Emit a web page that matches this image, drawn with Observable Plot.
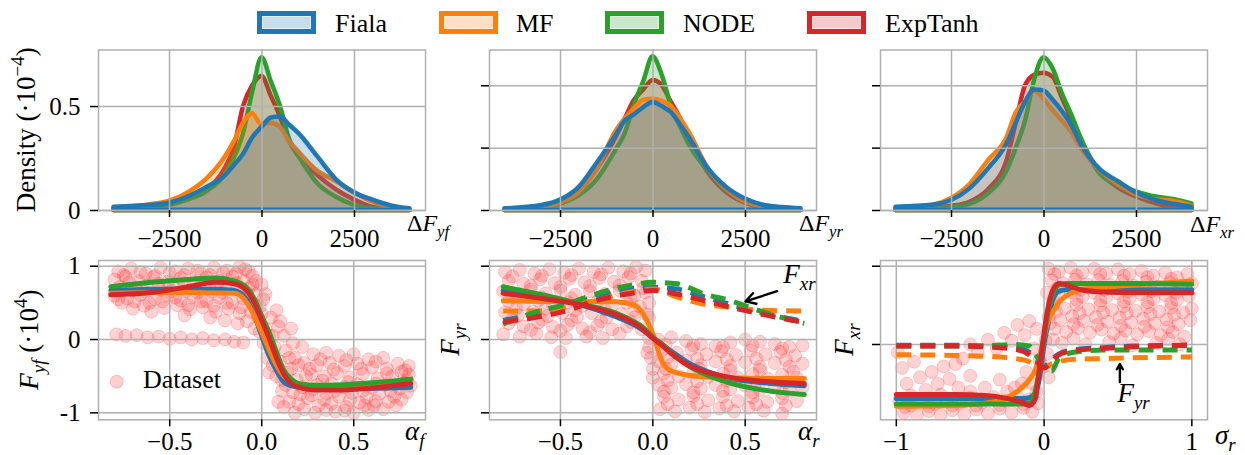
<!DOCTYPE html>
<html><head><meta charset="utf-8">
<script src="https://cdn.jsdelivr.net/npm/d3@7"></script>
<script src="https://cdn.jsdelivr.net/npm/@observablehq/plot@0.6"></script>
<style>
html,body{margin:0;padding:0;background:#fff;}
#root{position:relative;width:1245px;height:455px;overflow:hidden;background:#fff;}
#root svg{position:absolute;left:0;top:0;}
</style></head><body><div id="root"></div>
<script>
// ---------- data ----------
const models = ["Fiala", "MF", "NODE", "ExpTanh"];
const colors = ["#1f77b4", "#ff7f0e", "#2ca02c", "#d62728"];

// KDE grid (residual force, N)
const kdeGrid = [-4000,-3000,-2500,-2000,-1500,-1000,-750,-500,-250,0,250,500,750,1000,1500,2000,2500,3000,3500,4000];
// densities (·10^-4), order: Fiala, MF, NODE, ExpTanh
const densFyf = [
  [.016,.025,.035,.065,.11,.165,.215,.27,.35,.40,.445,.45,.41,.37,.26,.15,.085,.05,.022,.008],
  [.012,.028,.045,.085,.15,.255,.33,.42,.465,.41,.42,.40,.33,.28,.19,.14,.085,.04,.012,.004],
  [.004,.01,.025,.05,.09,.17,.25,.37,.57,.735,.62,.50,.34,.26,.13,.065,.025,.008,.003,0],
  [.004,.015,.03,.06,.10,.2,.3,.5,.6,.645,.55,.45,.33,.26,.17,.1,.05,.015,.005,0]
];
const densFyr = [
  [.008,.024,.05,.11,.23,.36,.43,.46,.495,.52,.5,.47,.41,.345,.2,.11,.055,.024,.014,.008],
  [.004,.012,.035,.085,.2,.38,.44,.49,.53,.535,.525,.5,.44,.37,.2,.1,.04,.018,.006,.003],
  [.002,.008,.03,.07,.15,.29,.37,.51,.62,.74,.65,.5,.4,.31,.19,.096,.048,.024,.01,.004],
  [.002,.01,.035,.09,.2,.35,.44,.53,.58,.625,.6,.52,.44,.34,.18,.085,.035,.012,.004,0]
];
const densFxr = [
  [.016,.025,.048,.104,.2,.32,.42,.52,.58,.575,.53,.475,.41,.32,.2,.14,.085,.05,.03,.016],
  [.008,.025,.058,.125,.24,.35,.47,.52,.575,.535,.48,.43,.375,.3,.195,.125,.075,.052,.045,.02],
  [.003,.008,.015,.03,.08,.19,.3,.43,.63,.735,.68,.56,.46,.35,.18,.12,.09,.066,.053,.032],
  [.003,.01,.02,.04,.1,.24,.42,.6,.65,.66,.64,.54,.44,.34,.19,.11,.065,.035,.012,0]
];

// Model curves, bottom row (force ·10^4)
const gridAf = [-0.82,-0.6,-0.4,-0.25,-0.15,-0.08,-0.04,0,0.04,0.08,0.12,0.16,0.2,0.25,0.3,0.4,0.6,0.81];
const curvesFyf = [
  [.67,.685,.69,.685,.67,.54,.33,.05,-.22,-.42,-.58,-.63,-.65,-.66,-.67,-.67,-.665,-.65],
  [.63,.64,.64,.635,.63,.5,.32,.1,-.14,-.35,-.5,-.58,-.61,-.62,-.63,-.64,-.62,-.6],
  [.72,.78,.82,.84,.80,.70,.55,.32,.1,-.17,-.42,-.54,-.6,-.62,-.625,-.62,-.59,-.54],
  [.61,.64,.72,.78,.76,.66,.5,.26,.02,-.25,-.47,-.6,-.65,-.68,-.69,-.69,-.66,-.6]
];
const gridAr = [-0.81,-0.6,-0.4,-0.2,-0.1,-0.05,0,0.05,0.1,0.2,0.3,0.4,0.6,0.82];
const curvesFyr = [
  [.67,.58,.48,.31,.2,.12,.02,-.07,-.16,-.33,-.44,-.52,-.59,-.63],
  [.53,.52,.52,.515,.47,.34,.08,-.3,-.43,-.49,-.51,-.52,-.53,-.53],
  [.72,.61,.49,.36,.24,.16,.03,-.06,-.18,-.37,-.49,-.58,-.69,-.75],
  [.63,.56,.48,.34,.22,.13,.02,-.08,-.19,-.36,-.45,-.51,-.57,-.6]
];
const gridArDash = [-0.81,-0.64,-0.47,-0.31,-0.14,0,0.13,0.28,0.42,0.58,0.82];
const curvesFxrDash = [
  [.26,.35,.47,.58,.69,.71,.69,.58,.48,.37,.25],
  [.39,.39,.44,.53,.64,.69,.58,.48,.44,.40,.39],
  [.21,.37,.48,.62,.73,.78,.76,.62,.53,.39,.22],
  [.24,.30,.39,.53,.62,.67,.62,.53,.44,.35,.23]
];
const gridSr = [-1,-0.6,-0.4,-0.25,-0.15,-0.1,-0.06,-0.03,0,0.03,0.06,0.1,0.15,0.25,0.4,0.6,1];
const curvesFxr = [
  [-.69,-.69,-.69,-.69,-.69,-.68,-.62,-.42,0,.3,.58,.68,.70,.70,.70,.70,.70],
  [-.79,-.78,-.75,-.68,-.55,-.45,-.33,-.15,.1,.32,.42,.54,.62,.70,.73,.76,.81],
  [-.76,-.76,-.76,-.76,-.76,-.75,-.6,-.3,.1,.45,.65,.76,.78,.78,.78,.78,.77],
  [-.64,-.64,-.65,-.69,-.74,-.78,-.7,-.3,.15,.5,.7,.78,.76,.7,.67,.66,.66]
];
const gridSrDash = [-1,-0.6,-0.4,-0.2,-0.1,-0.05,0,0.05,0.1,0.2,0.4,0.6,1];
const curvesFyrDash = [
  [-.01,-.01,-.02,-.04,-.1,-.2,-.28,-.2,-.12,-.07,-.04,-.02,-.01],
  [-.13,-.14,-.15,-.18,-.22,-.27,-.3,-.25,-.22,-.19,-.18,-.17,-.16],
  [-.02,-.02,-.02,0,-.02,-.15,-.3,-.34,-.18,-.1,-.07,-.07,-.07],
  [-.02,-.02,-.03,-.06,-.13,-.22,-.3,-.22,-.13,-.08,-.05,-.03,-.01]
];

// Dataset samples [slip, force ·10^4]
const ptsFyf = [
 [-0.78,0.93],[-0.71,0.97],[-0.63,0.9],[-0.55,0.98],[-0.47,0.93],[-0.4,0.97],[-0.33,0.91],[-0.26,0.98],[-0.19,0.94],[-0.12,0.99],[-0.07,0.93],
 [-0.8,0.82],[-0.74,0.86],[-0.67,0.8],[-0.59,0.85],[-0.51,0.79],[-0.44,0.84],[-0.37,0.78],[-0.3,0.85],[-0.23,0.8],[-0.16,0.86],[-0.1,0.8],[-0.05,0.87],
 [-0.77,0.72],[-0.7,0.67],[-0.62,0.74],[-0.55,0.68],[-0.48,0.72],[-0.41,0.66],[-0.34,0.71],[-0.27,0.65],[-0.2,0.72],[-0.13,0.68],[-0.07,0.7],[-0.03,0.62],
 [-0.8,0.6],[-0.73,0.56],[-0.66,0.61],[-0.58,0.55],[-0.51,0.6],[-0.44,0.53],[-0.37,0.58],[-0.3,0.52],[-0.23,0.57],[-0.16,0.5],[-0.1,0.56],[-0.04,0.48],
 [-0.76,0.5],[-0.7,0.42],[-0.64,0.46],[-0.6,0.38],[-0.53,0.43],[-0.46,0.47],[-0.42,0.33],[-0.39,0.41],[-0.32,0.44],[-0.28,0.3],[-0.25,0.38],[-0.2,0.26],[-0.18,0.42],[-0.13,0.22],[-0.12,0.36],[-0.08,0.25],[-0.06,0.38],[-0.04,0.15],[-0.02,0.3],
 [-0.75,0.88],[-0.66,0.92],[-0.58,0.87],[-0.5,0.91],[-0.42,0.88],[-0.35,0.94],[-0.28,0.88],[-0.21,0.91],[-0.14,0.9],[-0.09,0.96],[-0.03,0.8],
 [-0.79,0.67],[-0.72,0.78],[-0.64,0.66],[-0.56,0.76],[-0.49,0.66],[-0.42,0.76],[-0.35,0.64],[-0.28,0.77],[-0.21,0.64],[-0.14,0.77],[-0.08,0.63],[-0.05,0.75],
 [-0.78,0.55],[-0.69,0.52],[-0.61,0.5],[-0.54,0.52],[-0.47,0.57],[-0.4,0.47],[-0.33,0.52],[-0.26,0.46],[-0.19,0.5],[-0.11,0.44],
 [-0.79,0.07],[-0.74,0.05],[-0.68,0.06],[-0.62,0.03],[-0.56,0.04],[-0.5,0.01],[-0.44,0.03],[-0.38,0.0],[-0.32,0.02],[-0.26,-0.01],[-0.2,0.0],[-0.15,-0.03],[-0.1,-0.04],
 [0.0,0.75],[0.01,0.55],[0.0,0.35],[0.02,0.15],[0.01,-0.05],[0.03,-0.25],[0.04,-0.45],[-0.01,0.1],[0.05,0.3],[0.06,0.05],
 [-0.01,0.45],[0.02,0.62],[0.04,0.05],[0.06,-0.35],[0.1,0.25],[0.11,-0.55],[0.15,-0.25],[0.15,-0.85],[0.2,-0.35],[0.21,-0.75],
 [0.08,0.4],[0.09,0.18],[0.07,-0.1],[0.1,-0.3],[0.08,-0.5],[0.11,-0.7],[0.09,-0.85],[0.12,0.05],[0.13,-0.15],[0.14,-0.45],[0.13,-0.62],[0.12,-0.92],
 [0.16,0.15],[0.17,-0.05],[0.18,-0.25],[0.16,-0.4],[0.19,-0.55],[0.17,-0.72],[0.2,-0.88],[0.18,-1.0],[0.22,-0.1],[0.23,-0.32],[0.24,-0.5],[0.22,-0.65],[0.25,-0.8],[0.23,-0.95],
 [0.28,-0.2],[0.35,-0.18],[0.42,-0.22],[0.5,-0.2],[0.58,-0.27],[0.66,-0.25],[0.74,-0.33],[0.8,-0.36],
 [0.3,-0.35],[0.37,-0.32],[0.45,-0.36],[0.52,-0.33],[0.6,-0.38],[0.68,-0.4],[0.76,-0.44],
 [0.27,-0.48],[0.34,-0.5],[0.41,-0.46],[0.48,-0.52],[0.55,-0.47],[0.63,-0.53],[0.71,-0.5],[0.79,-0.55],
 [0.3,-0.62],[0.38,-0.6],[0.45,-0.65],[0.52,-0.61],[0.6,-0.66],[0.67,-0.62],[0.75,-0.67],[0.81,-0.63],
 [0.27,-0.76],[0.35,-0.74],[0.42,-0.78],[0.49,-0.73],[0.57,-0.79],[0.64,-0.74],[0.72,-0.78],[0.79,-0.72],
 [0.31,-0.9],[0.38,-0.87],[0.46,-0.92],[0.53,-0.86],[0.61,-0.9],[0.69,-0.85],[0.76,-0.82],
 [0.29,-1.0],[0.4,-0.98],[0.5,-1.0],[0.58,-0.96],[0.66,-0.95],
 [0.32,-0.27],[0.46,-0.28],[0.62,-0.3],[0.78,-0.42],[0.33,-0.56],[0.47,-0.58],[0.62,-0.6],[0.77,-0.6],[0.28,-0.68],[0.4,-0.7],[0.55,-0.7],[0.7,-0.7],
 [0.34,-0.82],[0.48,-0.82],[0.62,-0.84],[0.73,-0.9],[0.35,-0.96],[0.45,-0.97],[0.56,-0.9],[0.8,-0.48],[0.26,-0.4],[0.39,-0.41],[0.54,-0.4],[0.68,-0.46]
];
const ptsFyr = [
 [-0.8,0.92],[-0.72,0.95],[-0.64,0.9],[-0.56,0.96],[-0.48,0.91],[-0.4,0.97],[-0.32,0.92],[-0.24,0.98],[-0.16,0.93],[-0.09,0.99],[-0.04,0.94],
 [-0.78,0.8],[-0.7,0.76],[-0.61,0.82],[-0.53,0.77],[-0.45,0.83],[-0.37,0.78],[-0.29,0.84],[-0.21,0.79],[-0.13,0.85],[-0.06,0.8],[-0.02,0.72],
 [-0.81,0.66],[-0.74,0.62],[-0.66,0.68],[-0.58,0.63],[-0.5,0.67],[-0.42,0.61],[-0.34,0.66],[-0.26,0.62],[-0.18,0.67],[-0.1,0.6],[-0.04,0.64],
 [-0.78,0.52],[-0.7,0.48],[-0.62,0.53],[-0.54,0.47],[-0.46,0.51],[-0.38,0.46],[-0.3,0.52],[-0.22,0.47],[-0.14,0.5],[-0.07,0.45],[-0.02,0.5],
 [-0.8,0.37],[-0.73,0.33],[-0.65,0.38],[-0.57,0.32],[-0.49,0.36],[-0.41,0.31],[-0.33,0.36],[-0.25,0.3],[-0.17,0.35],[-0.1,0.3],[-0.03,0.34],
 [-0.78,0.22],[-0.7,0.18],[-0.62,0.23],[-0.54,0.17],[-0.46,0.2],[-0.38,0.15],[-0.3,0.19],[-0.22,0.14],[-0.14,0.18],[-0.06,0.14],
 [-0.81,0.07],[-0.72,0.04],[-0.63,0.08],[-0.55,0.03],[-0.47,0.02],[-0.36,0.04],[-0.27,0.02],[-0.02,0.02],[-0.5,-0.17],
 [-0.76,0.86],[-0.6,0.87],[-0.44,0.88],[-0.28,0.89],[-0.12,0.9],[-0.66,0.73],[-0.5,0.72],[-0.34,0.73],[-0.18,0.74],[-0.05,0.7],
 [-0.76,0.58],[-0.6,0.57],[-0.44,0.56],[-0.28,0.57],[-0.12,0.56],[-0.74,0.42],[-0.58,0.42],[-0.42,0.4],[-0.26,0.41],[-0.1,0.4],
 [-0.76,0.28],[-0.6,0.27],[-0.44,0.26],[-0.28,0.25],[-0.12,0.24],[-0.66,0.13],[-0.5,0.12],[-0.34,0.1],[-0.18,0.08],[-0.02,0.3],
 [-0.02,-0.1],[-0.01,-0.25],[0.0,-0.4],[-0.03,-0.18],[0.0,-0.52],
 [0.03,0.0],[0.1,0.03],[0.18,-0.02],[0.26,-0.06],[0.34,-0.09],[0.42,-0.04],[0.5,0.0],[0.58,-0.03],[0.66,-0.06],[0.74,-0.1],[0.81,-0.08],
 [0.05,-0.15],[0.13,-0.18],[0.21,-0.13],[0.29,-0.2],[0.37,-0.16],[0.45,-0.21],[0.53,-0.15],[0.61,-0.2],[0.69,-0.17],[0.77,-0.22],
 [0.03,-0.3],[0.1,-0.34],[0.18,-0.29],[0.26,-0.35],[0.34,-0.3],[0.42,-0.36],[0.5,-0.31],[0.58,-0.37],[0.66,-0.32],[0.74,-0.37],[0.81,-0.33],
 [0.06,-0.46],[0.14,-0.5],[0.22,-0.45],[0.3,-0.51],[0.38,-0.46],[0.46,-0.52],[0.54,-0.47],[0.62,-0.53],[0.7,-0.48],[0.78,-0.52],
 [0.03,-0.62],[0.1,-0.66],[0.18,-0.61],[0.26,-0.67],[0.34,-0.62],[0.42,-0.68],[0.5,-0.63],[0.58,-0.69],[0.66,-0.64],[0.74,-0.69],[0.81,-0.65],
 [0.06,-0.78],[0.14,-0.82],[0.22,-0.77],[0.3,-0.83],[0.38,-0.78],[0.46,-0.84],[0.54,-0.79],[0.62,-0.85],[0.7,-0.8],[0.78,-0.84],
 [0.04,-0.95],[0.12,-0.98],[0.2,-0.93],[0.28,-0.99],[0.36,-0.94],[0.44,-0.98],[0.52,-0.93],[0.6,-0.97],[0.7,-1.01],
 [0.07,-0.07],[0.22,-0.08],[0.38,-0.1],[0.54,-0.08],[0.7,-0.12],[0.08,-0.24],[0.24,-0.26],[0.4,-0.27],[0.56,-0.26],[0.72,-0.28],
 [0.07,-0.4],[0.25,-0.4],[0.42,-0.42],[0.58,-0.42],[0.76,-0.44],[0.08,-0.56],[0.24,-0.57],[0.4,-0.56],[0.56,-0.58],[0.72,-0.58],
 [0.06,-0.71],[0.22,-0.72],[0.38,-0.7],[0.54,-0.72],[0.7,-0.73],[0.08,-0.88],[0.24,-0.88],[0.4,-0.9],[0.56,-0.88],[0.72,-0.9]
];
const ptsFxr = [
 [0.03,0.97],[0.1,0.93],[0.18,0.98],[0.26,0.92],[0.34,0.97],[0.42,0.91],[0.5,0.96],[0.58,0.9],[0.66,0.94],[0.74,0.88],[0.82,0.92],[0.9,0.86],[0.97,0.9],
 [0.05,0.82],[0.13,0.78],[0.21,0.83],[0.29,0.77],[0.37,0.82],[0.45,0.76],[0.53,0.81],[0.61,0.75],[0.69,0.8],[0.77,0.74],[0.85,0.79],[0.93,0.73],[1.0,0.78],
 [0.02,0.66],[0.1,0.62],[0.18,0.67],[0.26,0.61],[0.34,0.66],[0.42,0.6],[0.5,0.65],[0.58,0.59],[0.66,0.64],[0.74,0.58],[0.82,0.63],[0.9,0.57],[0.98,0.62],
 [0.06,0.5],[0.14,0.46],[0.22,0.51],[0.3,0.45],[0.38,0.5],[0.46,0.44],[0.54,0.49],[0.62,0.43],[0.7,0.48],[0.78,0.42],[0.86,0.47],[0.94,0.41],[1.0,0.46],
 [0.03,0.35],[0.11,0.31],[0.19,0.36],[0.27,0.3],[0.35,0.35],[0.43,0.29],[0.51,0.34],[0.59,0.28],[0.67,0.33],[0.75,0.27],[0.83,0.32],[0.91,0.26],[0.99,0.31],
 [0.07,0.2],[0.15,0.16],[0.23,0.21],[0.31,0.15],[0.39,0.19],[0.47,0.14],[0.55,0.18],[0.63,0.13],[0.71,0.17],[0.79,0.12],[0.87,0.16],[0.95,0.1],
 [0.12,0.02],[0.28,0.0],[0.44,0.03],[0.6,-0.01],[0.76,0.02],[0.92,0.0],
 [0.07,0.9],[0.22,0.88],[0.38,0.9],[0.54,0.88],[0.7,0.86],[0.86,0.84],[0.09,0.72],[0.25,0.7],[0.41,0.7],[0.57,0.68],[0.73,0.68],[0.89,0.66],
 [0.06,0.56],[0.22,0.57],[0.38,0.56],[0.54,0.55],[0.7,0.54],[0.86,0.53],[0.08,0.42],[0.24,0.4],[0.4,0.41],[0.56,0.4],[0.72,0.39],[0.88,0.38],
 [0.04,0.27],[0.2,0.26],[0.36,0.25],[0.52,0.24],[0.68,0.23],[0.84,0.22],[0.2,0.08],[0.52,0.08],[0.84,0.07],
 [0.01,0.05],[0.02,-0.12],[0.0,-0.28],[0.03,-0.42],[0.06,0.06],
 [-0.05,0.2],[-0.1,0.3],[-0.13,0.12],[-0.18,0.25],[-0.22,0.05],[-0.27,0.15],[-0.32,-0.05],[-0.38,0.06],[-0.45,-0.1],[-0.5,0.0],[-0.55,-0.18],[-0.6,-0.25],[-0.07,-0.05],[-0.03,-0.2],
 [-0.98,-0.72],[-0.9,-0.78],[-0.82,-0.7],[-0.74,-0.76],[-0.66,-0.69],[-0.58,-0.75],[-0.5,-0.68],[-0.42,-0.74],[-0.34,-0.67],[-0.26,-0.72],[-0.18,-0.66],[-0.1,-0.7],[-0.05,-0.6],
 [-0.95,-0.87],[-0.86,-0.9],[-0.78,-0.85],[-0.7,-0.9],[-0.62,-0.84],[-0.54,-0.89],[-0.46,-0.83],[-0.38,-0.88],[-0.3,-0.82],[-0.22,-0.87],[-0.14,-0.81],[-0.08,-0.86],
 [-0.94,-0.8],[-0.78,-0.79],[-0.62,-0.78],[-0.46,-0.78],[-0.3,-0.77],[-0.14,-0.76],[-0.04,-0.75],[-0.9,-0.65],[-0.7,-0.64],[-0.5,-0.6],[-0.25,-0.6],[-0.08,-0.5],
 [-0.99,-0.1],[-0.96,-0.3],[-0.93,-0.5],[-0.88,-0.22],[-0.84,-0.42],[-0.8,-0.58],[-0.76,-0.35],[-0.72,-0.5],[-0.68,-0.28],[-0.64,-0.44],[-0.58,-0.55],[-0.5,-0.4],[-0.4,-0.55],[-0.3,-0.45],[-0.2,-0.55],[-0.12,-0.35],[-0.15,-0.5]
];

// annotations [x1, y1, x2, y2] and label anchors [x, y]
const annFxrArrow = [0.673, 0.66, 0.502, 0.52];
const annFxrText = [0.709, 0.76];
const annFyrArrow = [0.513, -0.48, 0.513, -0.25];
const annFyrText = [0.50, -0.74];

// ---------- drawing ----------
const W = 1245, H = 455;
const GRID = "#b0b0b0";
const FONT = "'Liberation Serif','Times New Roman',serif";
const root = document.getElementById("root");
const baseStyle = {background: "transparent", overflow: "visible", fontFamily: FONT, fontSize: "25px", color: "#000"};
const minus = s => s.replace("-", "\u2212");

function richText(svg, x, y, parts, {size = 26, rotate = 0, anchor = "start"} = {}) {
  const t = d3.select(svg).append("text")
    .attr("transform", `translate(${x},${y})` + (rotate ? ` rotate(${rotate})` : ""))
    .attr("text-anchor", anchor).attr("fill", "#000")
    .style("font-family", FONT).style("font-size", size + "px");
  let cur = 0;
  for (const p of parts) {
    const target = p.sub ? 0.25 * size : p.sup ? -0.42 * size : 0;
    const ts = t.append("tspan").text(p.t);
    if (target !== cur) ts.attr("dy", target - cur);
    cur = target;
    if (p.it) ts.style("font-style", "italic");
    if (p.sub || p.sup) ts.style("font-size", (0.7 * size) + "px");
  }
  return t;
}

function topPanel(left, dens, yTicks, showY) {
  const right = left + 327;
  const xt = [-2500, 0, 2500];
  const areas = [3, 2, 1, 0].map(i => {
    const rows = kdeGrid.map((x, j) => ({x, y: dens[i][j]}));
    return Plot.areaY(rows, {x: "x", y: "y", fill: colors[i], fillOpacity: 0.25, stroke: colors[i],
      strokeWidth: 4.5, strokeLinejoin: "round", curve: "monotone-x"});
  });
  return Plot.plot({
    width: W, height: H,
    marginLeft: left, marginRight: W - right, marginTop: 49.5, marginBottom: H - 210,
    style: baseStyle,
    x: {domain: [-4420, 4420]},
    y: {domain: [0, 0.772]},
    marks: [
      ...areas,
      Plot.gridX(xt, {stroke: GRID, strokeOpacity: 1, strokeWidth: 1.5}),
      Plot.gridY(yTicks, {stroke: GRID, strokeOpacity: 1, strokeWidth: 1.5}),
      Plot.frame({stroke: GRID, strokeWidth: 1.5}),
      Plot.axisX({ticks: xt, tickSize: 7, tickPadding: 12, strokeWidth: 1.5, label: null, fontFamily: FONT,
        tickFormat: d => minus(String(d))}),
      Plot.axisY({ticks: yTicks, tickSize: 8, tickPadding: 10, strokeWidth: 1.5, label: null, fontFamily: FONT,
        tickFormat: d => showY ? (d === 0 ? "0" : String(d)) : ""})
    ]
  });
}

function bottomPanel(o) {
  const right = o.left + 327;
  const lineMarks = [];
  for (let i = 0; i < 4; i++) {
    lineMarks.push(Plot.line(o.grid.map((x, j) => ({x, y: o.solid[i][j]})),
      {x: "x", y: "y", stroke: colors[i], strokeWidth: 5, curve: "monotone-x"}));
    if (o.dashed) lineMarks.push(Plot.line(o.dgrid.map((x, j) => ({x, y: o.dashed[i][j]})),
      {x: "x", y: "y", stroke: colors[i], strokeWidth: 5, strokeDasharray: "15,9", strokeLinecap: "butt", curve: "monotone-x"}));
  }
  const arrows = o.arrow ? [Plot.arrow([o.arrow], {x1: d => d[0], y1: d => d[1], x2: d => d[2], y2: d => d[3],
    stroke: "#000", strokeWidth: 2.4, headLength: 12})] : [];
  return Plot.plot({
    width: W, height: H,
    marginLeft: o.left, marginRight: W - right, marginTop: 260, marginBottom: H - 419.3,
    style: baseStyle,
    x: {domain: o.xDomain},
    y: {domain: o.yDomain},
    marks: [
      Plot.dot(o.pts, {x: d => d[0], y: d => d[1], r: 6.5, fill: "#f22", fillOpacity: 0.2,
        stroke: "#f22", strokeOpacity: 0.2, strokeWidth: 1, clip: true}),
      Plot.gridX(o.xTicks, {stroke: GRID, strokeOpacity: 1, strokeWidth: 1.5}),
      Plot.gridY(o.yTicks, {stroke: GRID, strokeOpacity: 1, strokeWidth: 1.5}),
      ...lineMarks,
      ...arrows,
      Plot.frame({stroke: GRID, strokeWidth: 1.5}),
      Plot.axisX({ticks: o.xTicks, tickSize: 7, tickPadding: 5, strokeWidth: 1.5, label: null, fontFamily: FONT, tickFormat: o.xFmt}),
      Plot.axisY({ticks: o.yTicks, tickSize: 8, tickPadding: 10, strokeWidth: 1.5, label: null, fontFamily: FONT, tickFormat: o.yFmt})
    ]
  });
}

// top row
const p1 = topPanel(98, densFyf, [0, 0.5], true);
const p2 = topPanel(489, densFyr, [0, 0.3, 0.6], false);
const p3 = topPanel(880, densFxr, [0, 0.3, 0.6], false);

// bottom row
const p4 = bottomPanel({left: 98, xDomain: [-0.887, 0.89], yDomain: [-1.095, 1.078],
  xTicks: [-0.5, 0, 0.5], xFmt: d => minus(d.toFixed(1)), yTicks: [-1, 0, 1], yFmt: d => String(d),
  pts: ptsFyf, grid: gridAf, solid: curvesFyf});
const p5 = bottomPanel({left: 489, xDomain: [-0.884, 0.886], yDomain: [-1.095, 1.078],
  xTicks: [-0.5, 0, 0.5], xFmt: d => minus(d.toFixed(1)), yTicks: [-1, 0, 1], yFmt: () => "",
  pts: ptsFyr, grid: gridAr, solid: curvesFyr, dgrid: gridArDash, dashed: curvesFxrDash, arrow: annFxrArrow});
const p6 = bottomPanel({left: 880, xDomain: [-1.107, 1.106], yDomain: [-0.962, 1.073],
  xTicks: [-1, 0, 1], xFmt: d => minus(String(d)), yTicks: [0, 1], yFmt: () => "",
  pts: ptsFxr, grid: gridSr, solid: curvesFxr, dgrid: gridSrDash, dashed: curvesFyrDash, arrow: annFyrArrow});

[p1, p2, p3, p4, p5, p6].forEach(p => root.appendChild(p));

// axis labels
richText(p1, 407, 231, [{t: "Δ"}, {t: "F", it: 1}, {t: "yf", it: 1, sub: 1}], {size: 24});
richText(p2, 799, 231, [{t: "Δ"}, {t: "F", it: 1}, {t: "yr", it: 1, sub: 1}], {size: 24});
richText(p3, 1190, 232, [{t: "Δ"}, {t: "F", it: 1}, {t: "xr", it: 1, sub: 1}], {size: 24});
richText(p1, 35, 129.75, [{t: "Density (·10"}, {t: "−4", sup: 1}, {t: ")"}], {size: 27, rotate: -90, anchor: "middle"});
richText(p4, 38, 339.6, [{t: "F", it: 1}, {t: "yf", it: 1, sub: 1}, {t: " (·10"}, {t: "4", sup: 1}, {t: ")"}], {size: 27, rotate: -90, anchor: "middle"});
richText(p5, 459, 339.6, [{t: "F", it: 1}, {t: "yr", it: 1, sub: 1}], {size: 27, rotate: -90, anchor: "middle"});
richText(p6, 853, 339.6, [{t: "F", it: 1}, {t: "xr", it: 1, sub: 1}], {size: 27, rotate: -90, anchor: "middle"});
richText(p4, 405, 440, [{t: "α", it: 1}, {t: "f", it: 1, sub: 1}], {size: 27});
richText(p5, 798, 440, [{t: "α", it: 1}, {t: "r", it: 1, sub: 1}], {size: 27});
richText(p6, 1215, 444, [{t: "σ", it: 1}, {t: "r", it: 1, sub: 1}], {size: 27});

// annotation labels (placed through the panels' scales)
richText(p5, p5.scale("x").apply(annFxrText[0]), p5.scale("y").apply(annFxrText[1]), [{t: "F", it: 1}, {t: "xr", it: 1, sub: 1}], {size: 27});
richText(p6, p6.scale("x").apply(annFyrText[0]), p6.scale("y").apply(annFyrText[1]), [{t: "F", it: 1}, {t: "yr", it: 1, sub: 1}], {size: 27});

// Dataset legend inside bottom-left panel
{
  const g = d3.select(p4);
  g.append("circle").attr("cx", 116.7).attr("cy", 381.7).attr("r", 6.5)
    .attr("fill", "#f22").attr("fill-opacity", 0.22).attr("stroke", "#f22").attr("stroke-opacity", 0.22);
  richText(p4, 143, 388, [{t: "Dataset"}], {size: 26});
}

// top legend
{
  const svg = d3.select(root).append("svg").attr("width", W).attr("height", 45)
    .style("font-family", FONT).style("font-size", "26px");
  const boxX = [259.5, 441.5, 607.5, 809.5];
  const textX = [335, 516, 683, 885];
  models.forEach((m, i) => {
    svg.append("rect").attr("x", boxX[i]).attr("y", 13.5).attr("width", 54).attr("height", 18)
      .attr("fill", colors[i]).attr("fill-opacity", 0.25).attr("stroke", colors[i]).attr("stroke-width", 5);
    svg.append("rect").attr("x", boxX[i] + 3).attr("y", 16.5).attr("width", 48).attr("height", 12)
      .attr("fill", "none").attr("stroke", "#fff").attr("stroke-opacity", 0.5).attr("stroke-width", 1);
    svg.append("text").attr("x", textX[i]).attr("y", 32).attr("fill", "#000").text(m);
  });
}
</script>
</body></html>
